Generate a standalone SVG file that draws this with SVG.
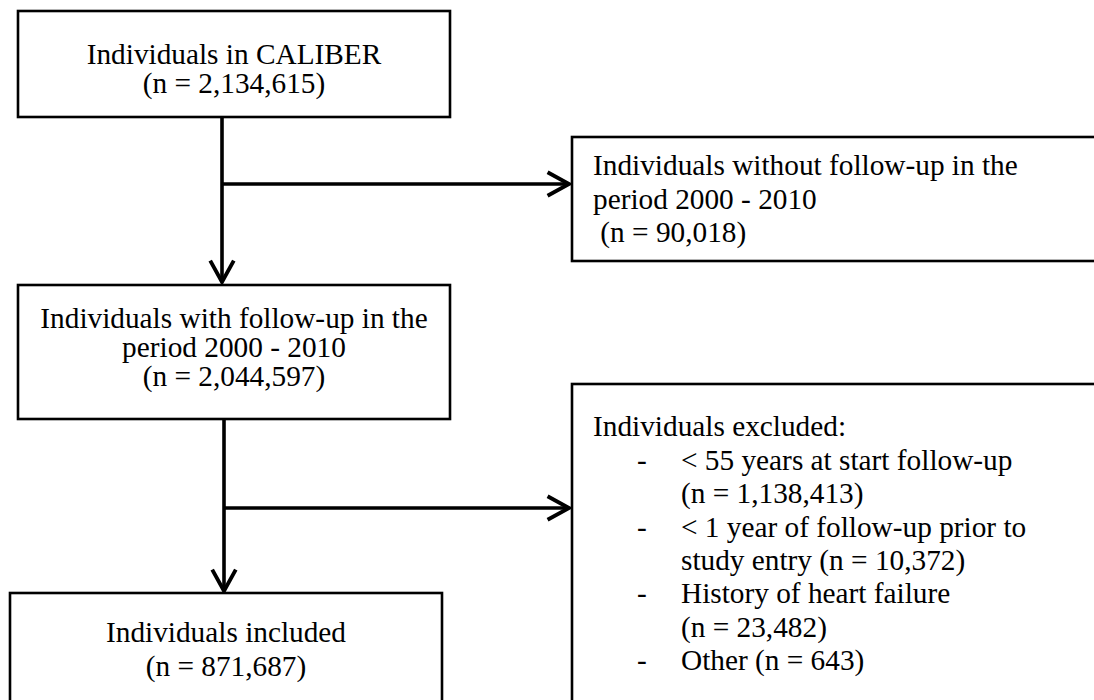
<svg xmlns="http://www.w3.org/2000/svg" width="1094" height="700" viewBox="0 0 1094 700">
<defs>
<style>
.box{fill:#fff;stroke:#000;stroke-width:2.6}
.t{font-family:"Liberation Serif","Times New Roman",serif;font-size:29.3px;fill:#000}
.c{text-anchor:middle}
.conn{stroke:#000;stroke-width:3.6;fill:none}
</style>
<marker id="arr" markerUnits="userSpaceOnUse" markerWidth="30" markerHeight="30" viewBox="-24 -14 28 28" refX="0" refY="0" orient="auto">
<path d="M-20,-11 L0,0 L-20,11" fill="none" stroke="#000" stroke-width="3.6" stroke-linejoin="miter"/>
</marker>
</defs>
<rect width="1094" height="700" fill="#fff"/>
<g id="connectors">
<line class="conn" x1="222" y1="117" x2="222" y2="282" marker-end="url(#arr)"/>
<line class="conn" x1="222" y1="184" x2="569" y2="184" marker-end="url(#arr)"/>
<line class="conn" x1="224" y1="419" x2="224" y2="591" marker-end="url(#arr)"/>
<line class="conn" x1="224" y1="508" x2="569" y2="508" marker-end="url(#arr)"/>
</g>
<g id="n1">
<rect class="box" x="18" y="11" width="432" height="106"/>
<text class="t c" x="234" y="64">Individuals in CALIBER</text>
<text class="t c" x="234" y="93">(n = 2,134,615)</text>
</g>
<g id="n2">
<rect class="box" x="572" y="137" width="600" height="124"/>
<text class="t" x="593" y="175">Individuals without follow-up in the</text>
<text class="t" x="593" y="209">period 2000 - 2010</text>
<text class="t" x="593" y="242" xml:space="preserve"> (n = 90,018)</text>
</g>
<g id="n3">
<rect class="box" x="18" y="285" width="432" height="134"/>
<text class="t c" x="234" y="328">Individuals with follow-up in the</text>
<text class="t c" x="234" y="357">period 2000 - 2010</text>
<text class="t c" x="234" y="386">(n = 2,044,597)</text>
</g>
<g id="n4">
<rect class="box" x="572" y="384" width="600" height="400"/>
<text class="t" x="593" y="436">Individuals excluded:</text>
<text class="t" x="637" y="470">-</text>
<text class="t" x="681" y="470">&lt; 55 years at start follow-up</text>
<text class="t" x="681" y="503">(n = 1,138,413)</text>
<text class="t" x="637" y="537">-</text>
<text class="t" x="681" y="537">&lt; 1 year of follow-up prior to</text>
<text class="t" x="681" y="570">study entry (n = 10,372)</text>
<text class="t" x="637" y="603">-</text>
<text class="t" x="681" y="603">History of heart failure</text>
<text class="t" x="681" y="637">(n = 23,482)</text>
<text class="t" x="637" y="670">-</text>
<text class="t" x="681" y="670">Other (n = 643)</text>
</g>
<g id="n5">
<rect class="box" x="10" y="593" width="432" height="200"/>
<text class="t c" x="226" y="642">Individuals included</text>
<text class="t c" x="226" y="676">(n = 871,687)</text>
</g>
</svg>
